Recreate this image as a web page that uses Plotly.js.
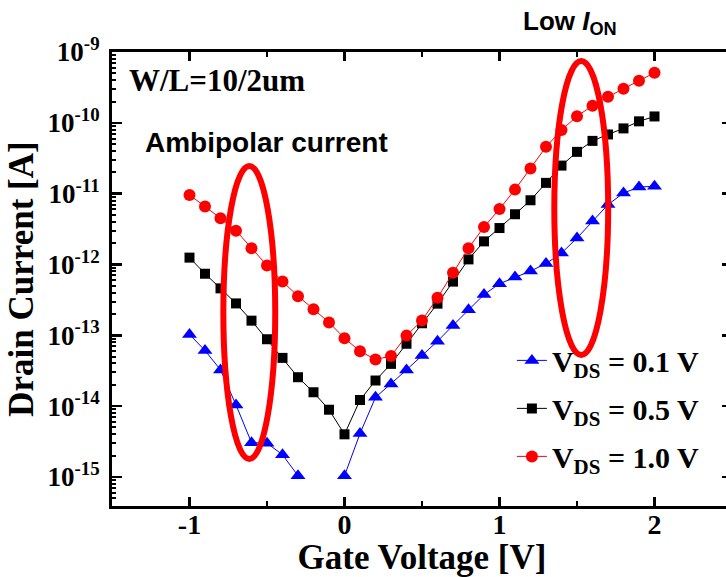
<!DOCTYPE html>
<html>
<head>
<meta charset="utf-8">
<script src="https://cdn.plot.ly/plotly-3.0.1.min.js"></script>
<style>
  html, body { margin: 0; padding: 0; background: #fff; overflow: hidden; }
  #chart { width: 740px; height: 577px; }
</style>
</head>
<body>
<div id="chart"></div>
<script>
// Gate voltage sweep (V)
const gateVoltage = [
  -1.0, -0.9, -0.8, -0.7, -0.6, -0.5, -0.4, -0.3, -0.2, -0.1,
   0.0,  0.1,  0.2,  0.3,  0.4,  0.5,  0.6,  0.7,  0.8,  0.9,
   1.0,  1.1,  1.2,  1.3,  1.4,  1.5,  1.6,  1.7,  1.8,  1.9, 2.0
];

// Drain current (A) at VDS = 0.1 V (no reading at -0.2 V and -0.1 V)
const idVds01 = [
  1.03e-13, 6.1e-14, 3.25e-14, 1.04e-14, 3.05e-15, 3.0e-15, 2.06e-15, 1.04e-15, null, null,
  1.04e-15, 4.1e-15, 1.33e-14, 2.06e-14, 3.25e-14, 5.18e-14, 8.26e-14, 1.38e-13, 2.3e-13, 3.76e-13,
  5.35e-13, 6.64e-13, 8.07e-13, 1.03e-12, 1.45e-12, 2.36e-12, 4.11e-12, 7.0e-12, 1.02e-11, 1.24e-11, 1.27e-11
];

// Drain current (A) at VDS = 0.5 V
const idVds05 = [
  1.25e-12, 7.4e-13, 4.6e-13, 2.82e-13, 1.61e-13, 8.8e-14, 4.8e-14, 2.56e-14, 1.57e-14, 8.9e-15,
  4.0e-15, 1.22e-14, 2.3e-14, 3.95e-14, 7.6e-14, 1.48e-13, 2.8e-13, 5.73e-13, 1.18e-12, 2.12e-12,
  3.27e-12, 5.12e-12, 8.07e-12, 1.42e-11, 2.49e-11, 3.89e-11, 5.56e-11, 6.85e-11, 8.34e-11, 1.05e-10, 1.23e-10
];

// Drain current (A) at VDS = 1.0 V
const idVds10 = [
  9.6e-12, 6.6e-12, 4.5e-12, 3.0e-12, 1.7e-12, 9.7e-13, 5.75e-13, 3.57e-13, 2.34e-13, 1.52e-13,
  9.1e-14, 5.96e-14, 4.55e-14, 5.1e-14, 9.9e-14, 1.62e-13, 3.4e-13, 7.65e-13, 1.7e-12, 3.38e-12,
  6.08e-12, 1.14e-11, 2.26e-11, 4.58e-11, 7.9e-11, 1.24e-10, 1.74e-10, 2.33e-10, 3.03e-10, 3.93e-10, 5.09e-10
];

// Decade ticks on the current axis
const yTickVals = [1e-15, 1e-14, 1e-13, 1e-12, 1e-11, 1e-10, 1e-9];
const yTickText = ['10<sup>-15</sup>', '10<sup>-14</sup>', '10<sup>-13</sup>', '10<sup>-12</sup>',
                   '10<sup>-11</sup>', '10<sup>-10</sup>', '10<sup>-9</sup>'];

const xTickVals = [-1, 0, 1, 2];
const xTickText = ['-1', '0', '1', '2'];

// minor log ticks: 2..9 within each decade
const yMinorVals = [];
for (let e = -16; e <= -9; e++) {
  for (let m = 2; m <= 9; m++) yMinorVals.push(m * Math.pow(10, e));
}

const SERIF = 'Liberation Serif, Times New Roman, serif';
const SANS = 'Liberation Sans, Arial, sans-serif';

const traces = [
  {
    x: gateVoltage, y: idVds01, name: 'V<sub>DS</sub> = 0.1 V', legendgroup: 'v01',
    mode: 'lines+markers', type: 'scatter', connectgaps: false,
    line: { color: '#0000ff', width: 1 },
    marker: { symbol: 'triangle-up', size: 13, color: '#0000ff' }
  },
  {
    x: gateVoltage, y: idVds05, name: 'V<sub>DS</sub> = 0.5 V', legendgroup: 'v05',
    mode: 'lines+markers', type: 'scatter',
    line: { color: '#000000', width: 1 },
    marker: { symbol: 'square', size: 10, color: '#000000' }
  },
  {
    x: gateVoltage, y: idVds10, name: 'V<sub>DS</sub> = 1.0 V', legendgroup: 'v10',
    mode: 'lines+markers', type: 'scatter',
    line: { color: '#ff0000', width: 1 },
    marker: { symbol: 'circle', size: 12, color: '#ff0000' }
  }
];

const layout = {
  width: 740, height: 577,
  margin: { l: 112, r: 8, t: 52, b: 71 },
  paper_bgcolor: '#ffffff', plot_bgcolor: '#ffffff',
  showlegend: true,
  legend: {
    x: 0.645, xanchor: 'left', y: 0.378, yanchor: 'top',
    traceorder: 'grouped', tracegroupgap: 6, bgcolor: 'rgba(0,0,0,0)',
    font: { family: SERIF, size: 30, weight: 'bold', color: '#000' }
  },
  xaxis: {
    range: [-1.5, 2.5],
    tickmode: 'array', tickvals: xTickVals, ticktext: xTickText,
    ticks: 'inside', ticklen: 9, tickwidth: 2.5, tickcolor: '#000',
    minor: { dtick: 0.5, ticks: 'inside', ticklen: 5, tickwidth: 2.5, tickcolor: '#000' },
    showline: true, linewidth: 3, linecolor: '#000', mirror: 'ticks',
    showgrid: false, zeroline: false,
    ticklabelstandoff: -9,
    tickfont: { family: SERIF, size: 28, weight: 'bold', color: '#000' },
    title: { text: 'Gate Voltage [V]', standoff: 8,
             font: { family: SERIF, size: 35, weight: 'bold', color: '#000' } }
  },
  yaxis: {
    type: 'log', range: [-15.41, -9],
    tickmode: 'array', tickvals: yTickVals, ticktext: yTickText,
    ticks: 'inside', ticklen: 10, tickwidth: 2.5, tickcolor: '#000',
    minor: { tickmode: 'array', tickvals: yMinorVals, ticks: 'inside', ticklen: 4, tickwidth: 2, tickcolor: '#000' },
    showline: true, linewidth: 3, linecolor: '#000', mirror: 'ticks',
    showgrid: false, zeroline: false,
    ticklabelstandoff: 4,
    tickfont: { family: SERIF, size: 27, weight: 'bold', color: '#000' },
    title: { text: 'Drain Current [A]', standoff: 4,
             font: { family: SERIF, size: 35, weight: 'bold', color: '#000' } }
  },
  shapes: [
    { type: 'circle', xref: 'paper', yref: 'paper', layer: 'above',
      x0: 0.1796, x1: 0.2633, y0: 0.1035, y1: 0.749,
      line: { color: '#ff0000', width: 6 } },
    { type: 'circle', xref: 'paper', yref: 'paper', layer: 'above',
      x0: 0.7134, x1: 0.8003, y0: 0.3326, y1: 0.980,
      line: { color: '#ff0000', width: 6 } }
  ],
  annotations: [
    { text: 'W/L=10/2um', xref: 'paper', yref: 'paper', x: 0.024, y: 0.938,
      xanchor: 'left', yanchor: 'middle', showarrow: false,
      font: { family: SERIF, size: 31, weight: 'bold', color: '#000' } },
    { text: 'Ambipolar current', xref: 'paper', yref: 'paper', x: 0.05, y: 0.80,
      xanchor: 'left', yanchor: 'middle', showarrow: false,
      font: { family: SANS, size: 28, weight: 'bold', color: '#000' } },
    { text: 'Low <i>I</i><sub>ON</sub>', xref: 'paper', yref: 'paper', x: 0.660, y: 1.064,
      xanchor: 'left', yanchor: 'middle', showarrow: false,
      font: { family: SANS, size: 26, weight: 'bold', color: '#000' } }
  ]
};

Plotly.newPlot('chart', traces, layout, { staticPlot: true, displayModeBar: false });
</script>
</body>
</html>
